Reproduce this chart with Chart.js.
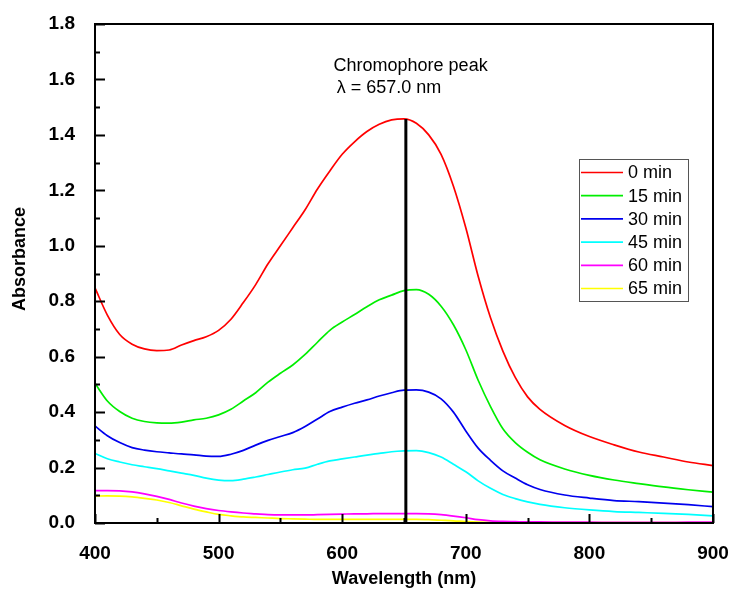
<!DOCTYPE html>
<html lang="en">
<head>
<meta charset="UTF-8">
<title>Absorbance</title>
<script src="https://cdn.jsdelivr.net/npm/chart.js@4/dist/chart.umd.min.js"></script>
<style>
  html, body { margin: 0; padding: 0; background: #fff; }
  #wrap { width: 734px; height: 590px; }
</style>
</head>
<body>
<div id="wrap"><canvas id="chart" width="734" height="590"></canvas></div>
<script>
// wavelength grid (nm) shared by all curves
const wavelengths = [400, 410, 420, 430, 440, 450, 460, 470, 480, 490, 500, 510, 520, 530, 540, 550, 560, 570, 580, 590, 600, 610, 620, 630, 640, 650, 660, 670, 680, 690, 700, 710, 720, 730, 740, 750, 760, 780, 800, 820, 840, 860, 880, 900];

const abs0 = [0.848, 0.750, 0.680, 0.645, 0.628, 0.622, 0.624, 0.642, 0.658, 0.672, 0.695, 0.735, 0.795, 0.860, 0.935, 1.000, 1.065, 1.130, 1.205, 1.270, 1.330, 1.375, 1.412, 1.438, 1.454, 1.458, 1.442, 1.400, 1.330, 1.215, 1.065, 0.890, 0.740, 0.620, 0.525, 0.455, 0.410, 0.352, 0.312, 0.282, 0.256, 0.238, 0.220, 0.207];
const abs15 = [0.504, 0.440, 0.402, 0.378, 0.366, 0.361, 0.360, 0.364, 0.372, 0.378, 0.390, 0.410, 0.440, 0.470, 0.508, 0.540, 0.570, 0.608, 0.652, 0.695, 0.725, 0.752, 0.780, 0.805, 0.822, 0.838, 0.842, 0.825, 0.782, 0.715, 0.625, 0.515, 0.420, 0.340, 0.290, 0.255, 0.228, 0.195, 0.172, 0.155, 0.142, 0.130, 0.120, 0.111];
const abs30 = [0.350, 0.315, 0.290, 0.272, 0.263, 0.257, 0.253, 0.249, 0.246, 0.241, 0.240, 0.248, 0.262, 0.281, 0.298, 0.312, 0.326, 0.348, 0.375, 0.402, 0.418, 0.432, 0.444, 0.458, 0.470, 0.479, 0.480, 0.472, 0.448, 0.400, 0.332, 0.270, 0.226, 0.188, 0.162, 0.138, 0.121, 0.101, 0.090, 0.081, 0.077, 0.072, 0.066, 0.059];
const abs45 = [0.251, 0.232, 0.220, 0.210, 0.203, 0.196, 0.188, 0.180, 0.172, 0.162, 0.155, 0.153, 0.158, 0.166, 0.175, 0.184, 0.192, 0.198, 0.212, 0.224, 0.231, 0.238, 0.245, 0.251, 0.257, 0.260, 0.261, 0.254, 0.238, 0.212, 0.185, 0.152, 0.125, 0.103, 0.088, 0.076, 0.067, 0.055, 0.047, 0.041, 0.038, 0.035, 0.031, 0.026];
const abs60 = [0.117, 0.117, 0.116, 0.112, 0.105, 0.096, 0.085, 0.072, 0.061, 0.052, 0.045, 0.040, 0.036, 0.033, 0.030, 0.029, 0.029, 0.029, 0.030, 0.031, 0.032, 0.033, 0.033, 0.034, 0.034, 0.034, 0.034, 0.033, 0.030, 0.025, 0.019, 0.012, 0.008, 0.006, 0.005, 0.004, 0.004, 0.003, 0.003, 0.002, 0.002, 0.002, 0.003, 0.003];
const abs65 = [0.097, 0.098, 0.097, 0.094, 0.089, 0.083, 0.074, 0.062, 0.050, 0.040, 0.031, 0.026, 0.022, 0.020, 0.018, 0.016, 0.015, 0.014, 0.013, 0.013, 0.013, 0.013, 0.013, 0.013, 0.013, 0.013, 0.013, 0.012, 0.010, 0.008, 0.005, 0.003, 0.002, 0.001, 0.001, 0.001, 0.001, 0.001, 0.001, 0.001, 0.001, 0.001, 0.001, 0.001];

const seriesLabels = ["0 min", "15 min", "30 min", "45 min", "60 min", "65 min"];
const seriesColors = ["#ff0000", "#00ee00", "#0000ee", "#00ffff", "#ff00ff", "#ffff00"];
const seriesValues = [abs0, abs15, abs30, abs45, abs60, abs65];

// peak marker line
const peakX = [651.5, 651.5];
const peakY = [0, 1.457];

const xTicks = [400, 500, 600, 700, 800, 900];
const yTicks = [0, 0.2, 0.4, 0.6, 0.8, 1.0, 1.2, 1.4, 1.6, 1.8];

const FONT = "'Liberation Sans', Arial, sans-serif";

const datasets = seriesValues.map((vals, i) => ({
  label: seriesLabels[i],
  data: wavelengths.map((w, j) => ({ x: w, y: vals[j] })),
  borderColor: seriesColors[i],
  borderWidth: 1.7,
  pointRadius: 0,
  cubicInterpolationMode: 'monotone',
  fill: false
}));
datasets.push({
  label: "peak",
  data: peakX.map((x, j) => ({ x: x, y: peakY[j] })),
  borderColor: "#000",
  borderWidth: 3,
  pointRadius: 0,
  order: -1
});

const decor = {
  id: 'decor',
  afterDraw(chart) {
    const ctx = chart.ctx;
    const a = chart.chartArea;
    const xs = chart.scales.x, ys = chart.scales.y;
    ctx.save();
    // frame
    ctx.strokeStyle = '#000';
    ctx.lineWidth = 2;
    ctx.strokeRect(a.left, a.top, a.right - a.left, a.bottom - a.top);
    // inward ticks
    ctx.beginPath();
    for (let v = 0; v <= 1.8001; v += 0.1) {
      const y = Math.round(ys.getPixelForValue(v)) + 0.5;
      const major = Math.round(v * 10) % 2 === 0;
      ctx.moveTo(a.left, y);
      ctx.lineTo(a.left + (major ? 10 : 5), y);
    }
    for (let w = 400; w <= 900; w += 50) {
      const x = Math.round(xs.getPixelForValue(w)) + 0.5;
      const major = w % 100 === 0;
      ctx.moveTo(x, a.bottom);
      ctx.lineTo(x, a.bottom - (major ? 9 : 5));
    }
    ctx.stroke();

    // legend box
    const lx = 579, ly = 159, lw = 109, lh = 142;
    ctx.fillStyle = '#fff';
    ctx.fillRect(lx, ly, lw, lh);
    ctx.strokeStyle = '#555';
    ctx.lineWidth = 1;
    ctx.strokeRect(lx + 0.5, ly + 0.5, lw, lh);
    ctx.font = '18px ' + FONT;
    ctx.textBaseline = 'middle';
    ctx.textAlign = 'left';
    seriesLabels.forEach((lab, i) => {
      const y = 172.5 + i * 23.2;
      ctx.strokeStyle = seriesColors[i];
      ctx.lineWidth = 1.7;
      ctx.beginPath();
      ctx.moveTo(lx + 2, y);
      ctx.lineTo(lx + 44, y);
      ctx.stroke();
      ctx.fillStyle = '#000';
      ctx.fillText(lab, lx + 49, y + 1);
    });

    // peak annotation
    ctx.fillStyle = '#000';
    ctx.textBaseline = 'alphabetic';
    ctx.font = '18px ' + FONT;
    ctx.fillText('Chromophore peak', xs.getPixelForValue(593), ys.getPixelForValue(1.63));
    ctx.fillText('\u03bb = 657.0 nm', xs.getPixelForValue(595.5), ys.getPixelForValue(1.55));

    // y axis title
    ctx.font = 'bold 18px ' + FONT;
    ctx.textAlign = 'center';
    ctx.textBaseline = 'middle';
    ctx.translate(20, 259);
    ctx.rotate(-Math.PI / 2);
    ctx.fillText('Absorbance', 0, 0);
    ctx.restore();
  }
};

new Chart(document.getElementById('chart'), {
  type: 'line',
  data: { datasets: datasets },
  options: {
    responsive: false,
    animation: false,
    layout: { padding: { left: 0, top: 24, right: 21, bottom: 0 } },
    plugins: { legend: { display: false }, tooltip: { enabled: false } },
    scales: {
      x: {
        type: 'linear',
        min: 400,
        max: 900,
        grid: { display: false },
        border: { display: false },
        afterBuildTicks: s => { s.ticks = xTicks.map(v => ({ value: v })); },
        afterFit: s => { s.height = 67; s.paddingLeft = 0; s.paddingRight = 0; },
        ticks: {
          color: '#000',
          padding: 11,
          maxRotation: 0,
          font: { family: FONT, size: 19, weight: 'bold' }
        },
        title: {
          display: true,
          text: 'Wavelength (nm)',
          color: '#000',
          padding: { top: 0, bottom: 0 },
          font: { family: FONT, size: 18, weight: 'bold' }
        }
      },
      y: {
        min: 0,
        max: 1.8,
        grid: { display: false },
        border: { display: false },
        afterBuildTicks: s => { s.ticks = yTicks.map(v => ({ value: v })); },
        afterFit: s => { s.width = 95; s.paddingTop = 0; s.paddingBottom = 0; },
        ticks: {
          color: '#000',
          padding: 12,
          callback: v => Number(v).toFixed(1),
          font: { family: FONT, size: 19, weight: 'bold' }
        }
      }
    }
  },
  plugins: [decor]
});
</script>
</body>
</html>
